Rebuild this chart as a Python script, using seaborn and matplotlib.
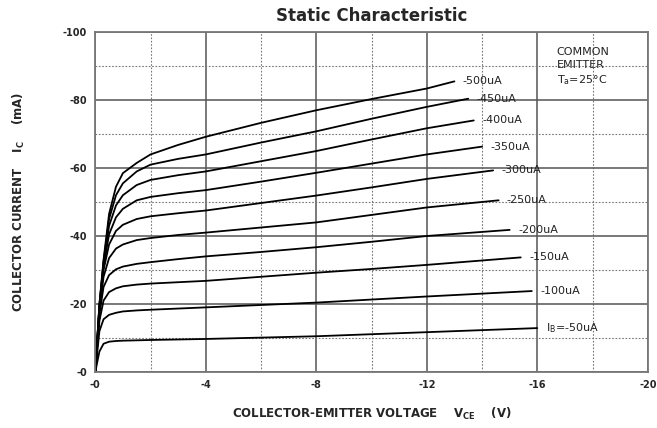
import numpy as np
import pandas as pd
import matplotlib
matplotlib.use("Agg")
import matplotlib.pyplot as plt
import seaborn as sns

# Static characteristic of a PNP transistor, common emitter, Ta = 25C
# values (V in volts, I in mA)

v_grid = [0, -0.15, -0.3, -0.5, -0.75, -1, -1.5, -2, -3, -4, -6, -8, -10, -12]

base_currents = ["-50uA", "-100uA", "-150uA", "-200uA", "-250uA",
                 "-300uA", "-350uA", "-400uA", "-450uA", "-500uA"]

# voltage where each curve stops
v_end = [-16.0, -15.8, -15.4, -15.0, -14.6, -14.4, -14.0, -13.7, -13.5, -13.0]

i_50 = [0, -6, -8.3, -8.9, -9.1, -9.2, -9.3, -9.4, -9.55, -9.7, -10.1, -10.5, -11.1, -11.7, -12.9]
i_100 = [0, -12, -15.5, -16.8, -17.4, -17.8, -18.1, -18.3, -18.65, -19.0, -19.7, -20.4, -21.3, -22.2, -23.8]
i_150 = [0, -15, -21, -23.5, -24.6, -25.2, -25.7, -26.0, -26.4, -26.8, -28.0, -29.2, -30.3, -31.5, -33.7]
i_200 = [0, -17, -25, -28.5, -30.2, -31.0, -31.8, -32.3, -33.2, -34.0, -35.3, -36.7, -38.3, -40.0, -41.8]
i_250 = [0, -18, -28, -33.5, -36.3, -37.5, -38.8, -39.4, -40.3, -41.0, -42.5, -44.0, -46.2, -48.4, -50.5]
i_300 = [0, -18.5, -30, -37.5, -41.5, -43.3, -45.0, -45.8, -46.7, -47.5, -49.7, -51.9, -54.3, -56.8, -59.3]
i_350 = [0, -19, -31, -40.5, -45.5, -48.0, -50.5, -51.5, -52.6, -53.5, -56.0, -58.6, -61.3, -64.0, -66.3]
i_400 = [0, -19.5, -32, -43, -49, -52.0, -55.0, -56.5, -57.9, -59.0, -62.0, -65.0, -68.4, -71.7, -74.0]
i_450 = [0, -19.5, -32.5, -45, -52, -55.5, -59.0, -61.0, -62.7, -64.0, -67.5, -70.8, -74.5, -78.0, -80.4]
i_500 = [0, -20, -33, -46.5, -54.5, -58.5, -61.5, -64.0, -66.8, -69.2, -73.3, -77.0, -80.3, -83.4, -85.5]

currents = [i_50, i_100, i_150, i_200, i_250, i_300, i_350, i_400, i_450, i_500]

label_texts = [r"$\mathregular{I_B}$=-50uA", "-100uA", "-150uA", "-200uA", "-250uA",
               "-300uA", "-350uA", "-400uA", "-450uA", "-500uA"]

x_ticks = [0, -4, -8, -12, -16, -20]
x_tick_labels = ["-0", "-4", "-8", "-12", "-16", "-20"]
y_ticks = [0, -20, -40, -60, -80, -100]
y_tick_labels = ["-0", "-20", "-40", "-60", "-80", "-100"]

# long form table
frames = []
for name, ve, ic in zip(base_currents, v_end, currents):
    frames.append(pd.DataFrame({"V": v_grid + [ve], "I": ic, "IB": name}))
df = pd.concat(frames, ignore_index=True)

sns.set_style("white")
plt.rcParams['font.family'] = ['DejaVu Sans']

fig = plt.figure(figsize=(6.57, 4.28), dpi=100)
ax = fig.add_axes([0.145, 0.131, 0.841, 0.794])

sns.lineplot(data=df, x="V", y="I", hue="IB", palette=["black"] * len(base_currents),
             legend=False, linewidth=1.3, ax=ax, sort=False, estimator=None)

ax.set_xlim(0, -20)
ax.set_ylim(0, -100)
ax.set_xticks(x_ticks)
ax.set_xticklabels(x_tick_labels)
ax.set_yticks(y_ticks)
ax.set_yticklabels(y_tick_labels)
ax.set_xticks([-2, -6, -10, -14, -18], minor=True)
ax.set_yticks([-10, -30, -50, -70, -90], minor=True)
ax.grid(which="major", color="#555555", linewidth=1.1, linestyle="-")
ax.grid(which="minor", color="#777777", linewidth=0.8, linestyle=(0, (1.5, 1.5)))
ax.set_axisbelow(True)
ax.tick_params(which="both", length=0, labelsize=7, pad=6)
for lab in ax.get_xticklabels() + ax.get_yticklabels():
    lab.set_fontweight("bold")
for sp in ax.spines.values():
    sp.set_color("#777777")
    sp.set_linewidth(1.3)

# curve labels
for name_txt, ve, ic in zip(label_texts, v_end, currents):
    ax.text(ve - 0.3, ic[-1], name_txt, fontsize=8, va="center", ha="left",
            color="#222222")

ax.text(-16.7, -95.5, "COMMON\nEMITTER\n" + r"$\mathregular{T_a}$=25°C", fontsize=8,
        va="top", ha="left", linespacing=1.35, color="#222222")

ax.set_title("Static Characteristic", fontsize=12, fontweight="bold", pad=8)
ax.set_xlabel("COLLECTOR-EMITTER VOLTAGE    " + r"$\mathregular{V_{CE}}$" + "    (V)",
              fontsize=8.5, fontweight="bold", labelpad=11)
ax.set_ylabel("COLLECTOR CURRENT    " + r"$\mathregular{I_C}$" + "    (mA)",
              fontsize=8.5, fontweight="bold", labelpad=26)

fig.savefig("out.png", dpi=100)
